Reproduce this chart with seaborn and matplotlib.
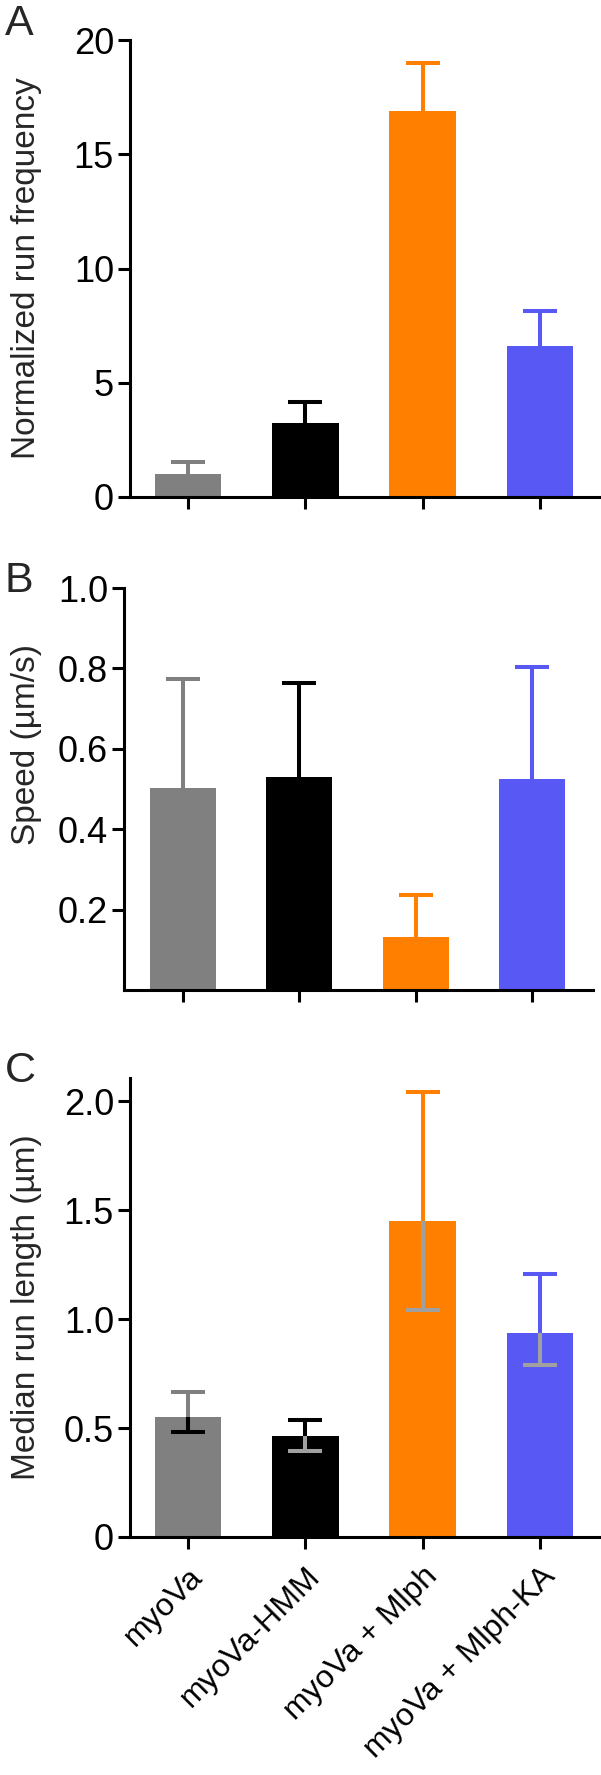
import matplotlib
matplotlib.use("Agg")
import matplotlib.pyplot as plt
import seaborn as sns

# categories and colours
conditions = ["myoVa", "myoVa-HMM", "myoVa + Mlph", "myoVa + Mlph-KA"]
bar_colors = ["#808080", "#000000", "#FF8000", "#5858F5"]
low_err_colors = ["#000000", "#A0A0A0", "#A0A0A0", "#A0A0A0"]

# A: normalized run frequency (mean, upper error end)
freq_mean = [1.0, 3.24, 16.89, 6.61]
freq_upper = [1.53, 4.16, 18.99, 8.14]

# B: speed (um/s)
speed_mean = [0.502, 0.530, 0.132, 0.525]
speed_upper = [0.774, 0.764, 0.236, 0.803]

# C: median run length (um) with asymmetric interval
runlen_mean = [0.552, 0.465, 1.449, 0.938]
runlen_upper = [0.667, 0.538, 2.042, 1.205]
runlen_lower = [0.483, 0.396, 1.040, 0.787]

sns.set_style("ticks")
plt.rcParams["font.family"] = ["Liberation Sans", "DejaVu Sans"]
plt.rcParams["axes.linewidth"] = 2.2
plt.rcParams["xtick.major.width"] = 2.2
plt.rcParams["ytick.major.width"] = 2.2
plt.rcParams["xtick.major.size"] = 8.6
plt.rcParams["ytick.major.size"] = 8.6
plt.rcParams["xtick.labelsize"] = 23
plt.rcParams["ytick.labelsize"] = 26
plt.rcParams["axes.edgecolor"] = "black"
plt.rcParams["xtick.color"] = "black"
plt.rcParams["ytick.color"] = "black"

W, H = 601, 1775
fig = plt.figure(figsize=(W / 100, H / 100), dpi=100)


def px_axes(left, right, top, bottom):
    return fig.add_axes([left / W, 1 - bottom / H, (right - left) / W, (bottom - top) / H])


def draw_panel(ax, means, uppers, lowers=None):
    sns.barplot(x=conditions, y=means, hue=conditions, palette=bar_colors,
                saturation=1, width=0.57, linewidth=0, legend=False, ax=ax)
    for i in range(len(conditions)):
        # upper half: stem + cap in the bar colour
        _, caps, _ = ax.errorbar(i, means[i], yerr=[[0], [uppers[i] - means[i]]],
                                 fmt="none", ecolor=bar_colors[i], elinewidth=2.9,
                                 capsize=11.9, capthick=2.9, zorder=3)
        caps[0].remove()
        if lowers is not None:
            _, caps, _ = ax.errorbar(i, means[i], yerr=[[means[i] - lowers[i]], [0]],
                                     fmt="none", ecolor=low_err_colors[i],
                                     elinewidth=2.9, capsize=11.9, capthick=2.9,
                                     zorder=4)
            caps[1].remove()
    sns.despine(ax=ax)
    ax.tick_params(axis="y", pad=3)
    ax.set_xlabel("")


# Panel A
axA = px_axes(130, 601, 40, 497)
draw_panel(axA, freq_mean, freq_upper)
axA.set_ylim(0, 20)
axA.set_xlim(-0.494, 3.52)
axA.set_yticks([0, 5, 10, 15, 20])
axA.set_xticks(range(4))
axA.set_xticklabels([])
axA.set_ylabel("Normalized run frequency", fontsize=24)
axA.yaxis.set_label_coords((42 - 130) / 471, 0.50)

# Panel B
axB = px_axes(124, 593, 588, 990)
draw_panel(axB, speed_mean, speed_upper)
axB.set_ylim(0, 1.0)
axB.set_xlim(-0.507, 3.524)
axB.set_yticks([0.2, 0.4, 0.6, 0.8, 1.0])
axB.set_yticklabels(["0.2", "0.4", "0.6", "0.8", "1.0"])
axB.set_xticks(range(4))
axB.set_xticklabels([])
axB.set_ylabel("Speed (\u00b5m/s)", fontsize=24)
axB.yaxis.set_label_coords((42 - 124) / 469, 0.61)

# Panel C
axC = px_axes(130, 601, 1078, 1537)
draw_panel(axC, runlen_mean, runlen_upper, runlen_lower)
axC.set_ylim(0, 2.106)
axC.set_xlim(-0.494, 3.52)
axC.set_yticks([0, 0.5, 1.0, 1.5, 2.0])
axC.set_yticklabels(["0", "0.5", "1.0", "1.5", "2.0"])
axC.set_xticks(range(4))
axC.set_xticklabels(conditions, rotation=45, ha="right", va="top",
                    rotation_mode="anchor")
axC.tick_params(axis="x", pad=9)
axC.set_ylabel("Median run length (\u00b5m)", fontsize=24)
axC.yaxis.set_label_coords((42 - 130) / 471, 0.50)

# panel letters
for letter, top in [("A", 4), ("B", 561), ("C", 1051)]:
    fig.text(5 / W, 1 - top / H, letter, fontsize=31, ha="left", va="top")

fig.savefig("out.png", dpi=100)
